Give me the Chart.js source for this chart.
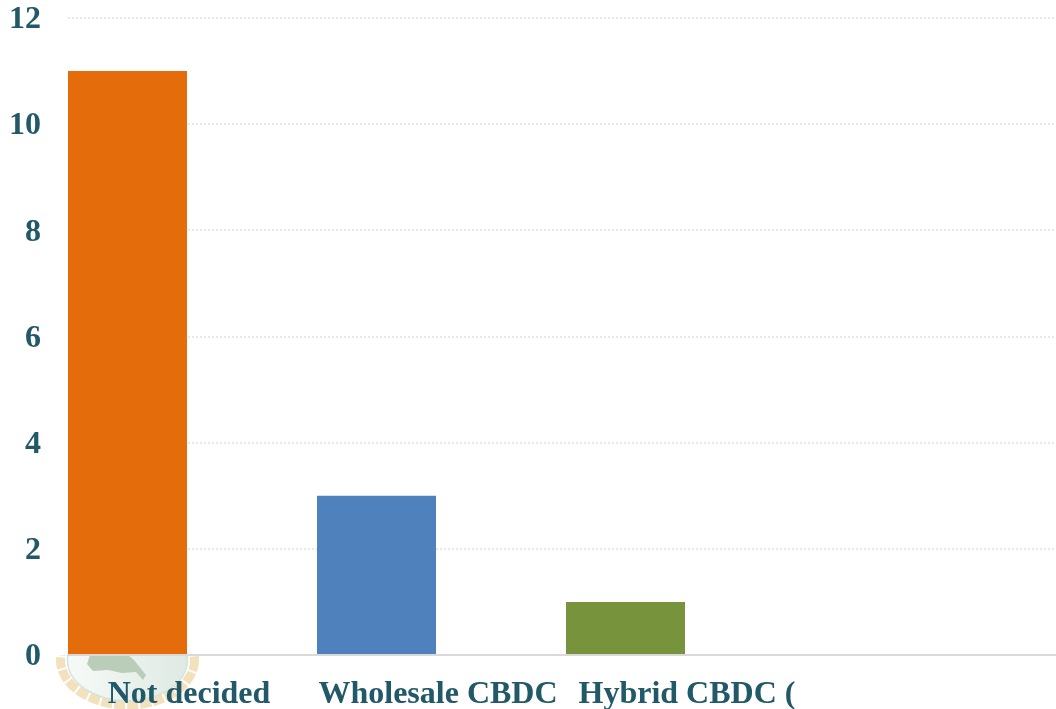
<!DOCTYPE html>
<html>
<head>
<meta charset="utf-8">
<script src="https://cdn.jsdelivr.net/npm/chart.js@4"></script>
<style>
  html, body { margin: 0; padding: 0; background: #fff; overflow: hidden; }
  canvas { display: block; }
</style>
</head>
<body>
<canvas id="chart" width="1056" height="709"></canvas>
<script>
var categories = ['Not decided', 'Wholesale CBDC', 'Hybrid CBDC (', ''];
var seriesValues = [11, 3, 1, null];
var seriesEmpty = [null, null, null, null];
var barColors = ['#e46c0a', '#4f81bd', '#77933c', '#8064a2'];
var yTicks = [0, 2, 4, 6, 8, 10, 12];

var textColor = '#215968';
var labelFont = { family: '"Liberation Serif"', size: 32, weight: 'bold' };

function points(values) {
    return values.map(function(v, i) { return { x: i, y: v }; });
}

// faded logo behind the first label, everything else is painted on top of it
var logoPlugin = {
    id: 'logo',
    beforeDraw: function(chart) {
        var ctx = chart.ctx;
        ctx.save();
        ctx.beginPath();
        ctx.rect(0, 655, 1056, 54);
        ctx.clip();

        ctx.beginPath();
        ctx.ellipse(127.5, 660, 67, 45, 0, 0, Math.PI * 2);
        ctx.lineWidth = 9;
        ctx.setLineDash([11, 2]);
        ctx.strokeStyle = '#f3e0bd';
        ctx.stroke();
        ctx.setLineDash([]);

        ctx.beginPath();
        ctx.ellipse(127.5, 660, 60, 41, 0, 0, Math.PI * 2);
        var disc = ctx.createLinearGradient(68, 0, 187, 0);
        disc.addColorStop(0, '#f6faf7');
        disc.addColorStop(1, '#dfeae3');
        ctx.fillStyle = disc;
        ctx.fill();
        ctx.lineWidth = 1.5;
        ctx.strokeStyle = '#d5e4da';
        ctx.stroke();

        ctx.beginPath();
        ctx.moveTo(90, 655);
        ctx.lineTo(87, 664);
        ctx.lineTo(93, 671);
        ctx.lineTo(108, 670);
        ctx.lineTo(122, 673);
        ctx.lineTo(136, 672);
        ctx.lineTo(143, 680);
        ctx.lineTo(146, 675);
        ctx.lineTo(134, 660);
        ctx.lineTo(128, 655);
        ctx.closePath();
        ctx.fillStyle = '#b9cdb8';
        ctx.fill();
        ctx.restore();
    }
};

new Chart(document.getElementById('chart'), {
    type: 'bar',
    data: {
        datasets: [{
            data: points(seriesValues),
            backgroundColor: barColors
        }, {
            data: points(seriesEmpty)
        }]
    },
    plugins: [logoPlugin],
    options: {
        responsive: false,
        animation: false,
        categoryPercentage: 0.9558,
        barPercentage: 1,
        layout: { padding: { top: 18, right: 0, bottom: 0, left: 0 } },
        plugins: {
            legend: { display: false },
            title: { display: false },
            tooltip: { enabled: false }
        },
        scales: {
            x: {
                type: 'linear',
                offset: false,
                min: -0.4779,
                max: 3.49,
                afterBuildTicks: function(axis) {
                    axis.ticks = categories.map(function(c, i) { return { value: i }; });
                },
                afterFit: function(axis) {
                    axis.height = 54;
                    axis.paddingLeft = 0;
                    axis.paddingRight = 0;
                },
                grid: { display: false, drawTicks: false },
                border: { display: true, color: '#d9d9d9', width: 2 },
                ticks: {
                    autoSkip: false,
                    maxRotation: 0,
                    minRotation: 0,
                    padding: 21,
                    labelOffset: 2,
                    color: textColor,
                    font: labelFont,
                    callback: function(value) { return categories[value]; }
                }
            },
            y: {
                min: 0,
                max: 12,
                afterBuildTicks: function(axis) {
                    axis.ticks = yTicks.map(function(v) { return { value: v }; });
                },
                afterFit: function(axis) {
                    axis.width = 68;
                    axis.paddingTop = 0;
                    axis.paddingBottom = 0;
                },
                grid: {
                    color: function(c) { return c.tick.value === 0 ? 'rgba(0,0,0,0)' : '#e2e9f2'; },
                    lineWidth: 2,
                    drawTicks: false
                },
                border: { display: false, dash: [2, 2] },
                ticks: {
                    padding: 27,
                    labelOffset: 2,
                    color: textColor,
                    font: labelFont
                }
            }
        }
    }
});
</script>
</body>
</html>
